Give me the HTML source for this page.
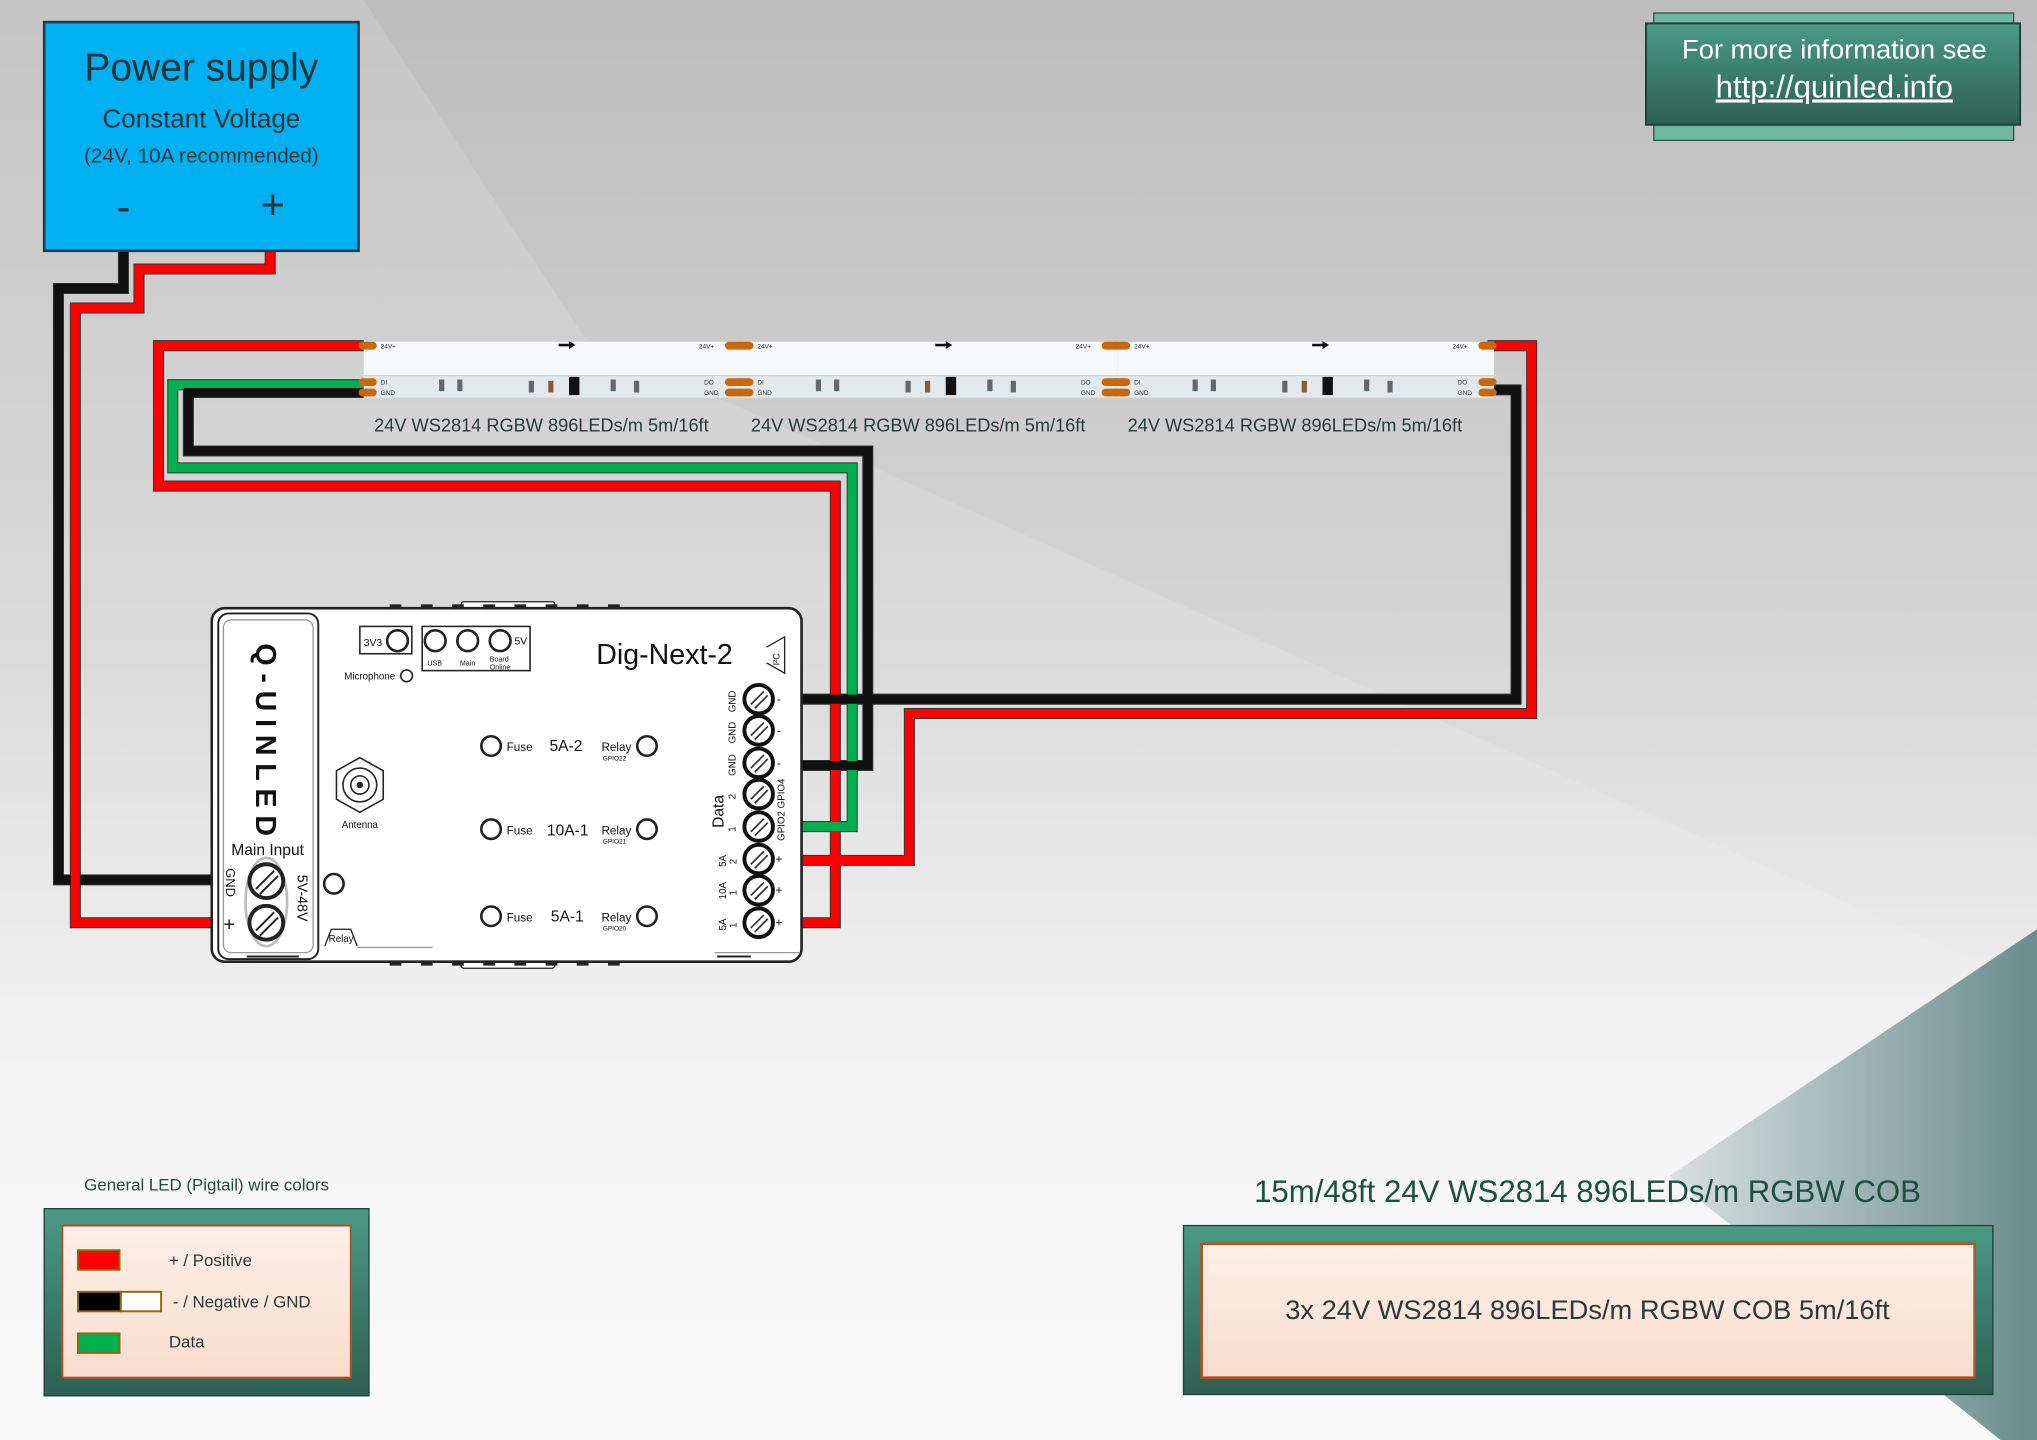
<!DOCTYPE html>
<html><head><meta charset="utf-8"><style>html,body{margin:0;padding:0;background:#eee}svg{display:block}text{font-family:"Liberation Sans","DejaVu Sans",sans-serif}</style></head><body>
<svg width="2037" height="1440" viewBox="0 0 1568 1108" preserveAspectRatio="none" xmlns="http://www.w3.org/2000/svg">
<defs>
<linearGradient id="bg" x1="0" y1="0" x2="0" y2="1"><stop offset="0" stop-color="#bdbdbd"/><stop offset="0.45" stop-color="#d6d6d6"/><stop offset="0.75" stop-color="#f3f3f3"/><stop offset="1" stop-color="#f8f8f8"/></linearGradient>
<linearGradient id="tri" x1="0" y1="0" x2="1" y2="0"><stop offset="0" stop-color="#d8e0e0"/><stop offset="1" stop-color="#6a8c8c"/></linearGradient>
<linearGradient id="gb" x1="0" y1="0" x2="0" y2="1"><stop offset="0" stop-color="#4a9a85"/><stop offset="1" stop-color="#2d5f52"/></linearGradient>
<linearGradient id="pk" x1="0" y1="0" x2="0" y2="1"><stop offset="0" stop-color="#fdf0e8"/><stop offset="1" stop-color="#f8dccc"/></linearGradient>
<g id="strip">
<rect x="0" y="263" width="290" height="27" fill="#f6f9fa"/>
<rect x="0" y="289" width="290" height="17" fill="#e2e9ed"/>
<line x1="0" y1="289" x2="290" y2="289" stroke="#c8d2d8" stroke-width="1"/>
<rect x="-4" y="263" width="14" height="6" rx="3" fill="#c8670e"/>
<rect x="-4" y="291" width="14" height="6" rx="3" fill="#c8670e"/>
<rect x="-4" y="299" width="14" height="6" rx="3" fill="#c8670e"/>
<rect x="278" y="263" width="14" height="6" rx="3" fill="#c8670e"/>
<rect x="278" y="291" width="14" height="6" rx="3" fill="#c8670e"/>
<rect x="278" y="299" width="14" height="6" rx="3" fill="#c8670e"/>
<text x="13" y="268" font-size="5" fill="#333">24V+</text>
<text x="258" y="268" font-size="5" fill="#333">24V+</text>
<text x="13" y="296" font-size="5" fill="#333">DI</text>
<text x="13" y="304" font-size="5" fill="#333">GND</text>
<text x="262" y="296" font-size="5" fill="#333">DO</text>
<text x="262" y="304" font-size="5" fill="#333">GND</text>
<path d="M150 265.5 h10" stroke="#111" stroke-width="2"/><path d="M158 262.5 l5 3 l-5 3z" fill="#111"/>
<rect x="58" y="292" width="4" height="9" fill="#666"/><rect x="72" y="292" width="4" height="9" fill="#666"/>
<rect x="127" y="293" width="4" height="9" fill="#666"/><rect x="142" y="293" width="4" height="9" fill="#8a5a30"/>
<rect x="158" y="290" width="8" height="14" fill="#111"/>
<rect x="190" y="292" width="4" height="9" fill="#666"/><rect x="208" y="293" width="4" height="9" fill="#666"/>
</g>
</defs>
<rect width="1568" height="1108" fill="url(#bg)"/>
<polygon points="0,190 0,1108 1568,1108 1568,760 450,260 280,0 0,0" fill="#ffffff" opacity="0.12"/>
<polygon points="1285,905 1568,715 1568,1108 1540,1108" fill="url(#tri)"/>

<g fill="none" stroke-linejoin="miter">
<g stroke="#333" stroke-width="8.5">
<path d="M95 193 V222 H45 V677 H166"/>
<path d="M208 193 V207 H107 V237 H58 V710 H166"/>
<path d="M280 266 H122 V374 H643 V710 H616"/>
<path d="M280 296 H133 V360 H656 V636 H616"/>
<path d="M280 302 H145 V347 H668 V589 H616"/>
<path d="M1145 300 H1167 V538 H616"/>
<path d="M1145 266 H1179 V549 H700 V662 H616"/>
</g>
<path d="M95 193 V222 H45 V677 H166" stroke="#111" stroke-width="7"/>
<path d="M208 193 V207 H107 V237 H58 V710 H166" stroke="#f00" stroke-width="7"/>
<path d="M280 266 H122 V374 H643 V710 H616" stroke="#f00" stroke-width="7"/>
<path d="M280 296 H133 V360 H656 V636 H616" stroke="#00b050" stroke-width="7"/>
<path d="M280 302 H145 V347 H668 V589 H616" stroke="#111" stroke-width="7"/>
<path d="M1145 300 H1167 V538 H616" stroke="#111" stroke-width="7"/>
<path d="M1145 266 H1179 V549 H700 V662 H616" stroke="#f00" stroke-width="7"/>
</g>

<use href="#strip" transform="translate(280,0)"/>
<use href="#strip" transform="translate(570,0)"/>
<use href="#strip" transform="translate(860,0)"/>
<g font-size="14" fill="#2a3a3a">
<text x="288" y="332">24V WS2814 RGBW 896LEDs/m 5m/16ft</text>
<text x="578" y="332">24V WS2814 RGBW 896LEDs/m 5m/16ft</text>
<text x="868" y="332">24V WS2814 RGBW 896LEDs/m 5m/16ft</text>
</g>

<rect x="34" y="17" width="242" height="176" fill="#00b0f0" stroke="#1f3c4c" stroke-width="2"/>
<g fill="#1d3438" text-anchor="middle">
<text x="155" y="62" font-size="30">Power supply</text>
<text x="155" y="98" font-size="20">Constant Voltage</text>
<text x="155" y="125" font-size="16">(24V, 10A recommended)</text>
<text x="95" y="170" font-size="32">-</text>
<text x="210" y="168" font-size="32">+</text>
</g>

<rect x="1273" y="10" width="277" height="98" fill="#6fb8a0" stroke="#2c5548"/>
<rect x="1267" y="18" width="288" height="78" fill="url(#gb)" stroke="#1f4038" stroke-width="1.5"/>
<text x="1412" y="45" font-size="21" fill="#fff" text-anchor="middle">For more information see</text>
<text x="1412" y="75" font-size="24" fill="#fff" text-anchor="middle" text-decoration="underline">http://quinled.info</text>

<g stroke="#222" fill="none">
<rect x="355" y="463" width="72" height="6" rx="2" fill="#fff"/>
<rect x="355" y="739" width="72" height="6" rx="2" fill="#fff"/>
<rect x="163" y="468" width="454" height="272" rx="10" fill="#fff" stroke-width="2"/>
<rect x="168" y="472" width="77" height="266" rx="8" stroke-width="1.5"/>
<rect x="172" y="477" width="69" height="256" rx="6" stroke="#999"/>
<rect x="277" y="482" width="40" height="21" stroke-width="1.2"/>
<rect x="325" y="482" width="83" height="34" stroke-width="1.2"/>
<circle cx="306" cy="493" r="8" stroke-width="2"/>
<circle cx="335" cy="493" r="8" stroke-width="2"/>
<circle cx="360" cy="493" r="8" stroke-width="2"/>
<circle cx="385" cy="493" r="8" stroke-width="2"/>
<circle cx="313" cy="520" r="4.5" stroke-width="1.2"/>
<path d="M590 498 L604 490 V518 L590 510" stroke-width="1"/>
<polygon points="277,583 295,593 295,615 277,625 259,615 259,593" stroke-width="1.2"/>
<circle cx="277" cy="604" r="13" stroke-width="1.2"/>
<circle cx="277" cy="604" r="7" stroke-width="1.2"/>
<circle cx="277" cy="604" r="2" fill="#222"/>
<circle cx="257" cy="680" r="7.5" stroke-width="2"/>
<path d="M250 728 L255 715 H270 L275 728" stroke-width="1"/>
<line x1="275" y1="729" x2="333" y2="729" stroke="#999"/>
<line x1="550" y1="733" x2="615" y2="733" stroke="#999"/>
<line x1="552" y1="736" x2="578" y2="736" stroke-width="1.5"/>
<line x1="190" y1="736" x2="230" y2="736" stroke-width="1.5"/>
<circle cx="378" cy="574" r="7.5" stroke-width="2"/><circle cx="498" cy="574" r="7.5" stroke-width="2"/>
<circle cx="378" cy="638" r="7.5" stroke-width="2"/><circle cx="498" cy="638" r="7.5" stroke-width="2"/>
<circle cx="378" cy="705" r="7.5" stroke-width="2"/><circle cx="498" cy="705" r="7.5" stroke-width="2"/>
<ellipse cx="205" cy="694" rx="16" ry="34" stroke="#bbb" stroke-width="2"/>
<circle cx="205" cy="678" r="13" stroke-width="3" fill="#fff"/>
<circle cx="205" cy="710" r="13" stroke-width="3" fill="#fff"/>
<path d="M197 684 L211 670 M200 688 L214 674 M197 716 L211 702 M200 720 L214 706" stroke-width="1.5"/>
</g>
<g fill="#222" stroke="none">
<rect x="300" y="465" width="9" height="4"/><rect x="324" y="465" width="9" height="4"/><rect x="348" y="465" width="9" height="4"/><rect x="372" y="465" width="9" height="4"/><rect x="396" y="465" width="9" height="4"/><rect x="420" y="465" width="9" height="4"/><rect x="444" y="465" width="9" height="4"/><rect x="468" y="465" width="9" height="4"/>
<rect x="300" y="739" width="9" height="4"/><rect x="324" y="739" width="9" height="4"/><rect x="348" y="739" width="9" height="4"/><rect x="372" y="739" width="9" height="4"/><rect x="396" y="739" width="9" height="4"/><rect x="420" y="739" width="9" height="4"/><rect x="444" y="739" width="9" height="4"/><rect x="468" y="739" width="9" height="4"/>
</g>
<g stroke="#111" fill="#fff">
<circle cx="584" cy="538" r="11" stroke-width="3"/><circle cx="584" cy="562" r="11" stroke-width="3"/><circle cx="584" cy="587" r="11" stroke-width="3"/><circle cx="584" cy="611" r="11" stroke-width="3"/><circle cx="584" cy="636" r="11" stroke-width="3"/><circle cx="584" cy="661" r="11" stroke-width="3"/><circle cx="584" cy="685" r="11" stroke-width="3"/><circle cx="584" cy="710" r="11" stroke-width="3"/>
</g>
<g stroke="#333" stroke-width="1.3">
<path d="M578 542 l10-10 M581 545 l10-10 M578 566 l10-10 M581 569 l10-10 M578 591 l10-10 M581 594 l10-10 M578 615 l10-10 M581 618 l10-10 M578 640 l10-10 M581 643 l10-10 M578 665 l10-10 M581 668 l10-10 M578 689 l10-10 M581 692 l10-10 M578 714 l10-10 M581 717 l10-10"/>
</g>
<g fill="#111">
<text font-size="22" font-weight="bold" letter-spacing="6" transform="translate(197,495) rotate(90)">Q-UINLED</text>
<text x="206" y="658" font-size="12" text-anchor="middle">Main Input</text>
<text font-size="10" transform="translate(174,668) rotate(90)">GND</text>
<text x="172" y="716" font-size="15">+</text>
<text font-size="11" transform="translate(229,673) rotate(90)">5V-48V</text>
<text x="280" y="497" font-size="8">3V3</text>
<text x="396" y="496" font-size="8">5V</text>
<text x="329" y="512" font-size="5.5">USB</text>
<text x="354" y="512" font-size="5.5">Main</text>
<text x="377" y="509" font-size="5.5">Board</text>
<text x="377" y="515" font-size="5.5">Online</text>
<text x="265" y="523" font-size="7.5">Microphone</text>
<text x="459" y="511" font-size="22">Dig-Next-2</text>
<text font-size="7" transform="translate(600,512) rotate(-90)">I²C</text>
<text x="277" y="637" font-size="7.5" text-anchor="middle">Antenna</text>
<text x="253" y="725" font-size="7.5">Relay</text>
<g font-size="9"><text x="390" y="578">Fuse</text><text x="390" y="642">Fuse</text><text x="390" y="709">Fuse</text>
<text x="463" y="578">Relay</text><text x="463" y="642">Relay</text><text x="463" y="709">Relay</text></g>
<g font-size="5"><text x="464" y="585">GPIO22</text><text x="464" y="649">GPIO21</text><text x="464" y="716">GPIO20</text></g>
<g font-size="12"><text x="423" y="578">5A-2</text><text x="421" y="643">10A-1</text><text x="424" y="709">5A-1</text></g>
<g font-size="7.5">
<text transform="translate(566,548) rotate(-90)">GND</text>
<text transform="translate(566,572) rotate(-90)">GND</text>
<text transform="translate(566,597) rotate(-90)">GND</text>
<text transform="translate(566,615) rotate(-90)">2</text>
<text transform="translate(566,640) rotate(-90)">1</text>
<text transform="translate(559,667) rotate(-90)">5A</text><text transform="translate(567,665) rotate(-90)">2</text>
<text transform="translate(559,692) rotate(-90)">10A</text><text transform="translate(567,689) rotate(-90)">1</text>
<text transform="translate(559,716) rotate(-90)">5A</text><text transform="translate(567,714) rotate(-90)">1</text>
<text transform="translate(604,622) rotate(-90)">GPIO4</text>
<text transform="translate(604,647) rotate(-90)">GPIO2</text>
</g>
<text font-size="12" transform="translate(557,637) rotate(-90)">Data</text>
<g font-size="9"><text x="598" y="541">-</text><text x="598" y="565">-</text><text x="598" y="590">-</text><text x="597" y="664">+</text><text x="597" y="688">+</text><text x="597" y="713">+</text></g>
</g>

<text x="159" y="916" font-size="13" fill="#254a40" text-anchor="middle">General LED (Pigtail) wire colors</text>
<rect x="34" y="930" width="250" height="144" fill="url(#gb)" stroke="#1f4038"/>
<rect x="48" y="943" width="222" height="117" fill="url(#pk)" stroke="#b85020" stroke-width="1.5"/>
<rect x="60" y="962" width="32" height="15" fill="#f00" stroke="#8a6a10" stroke-width="1.5"/>
<rect x="60" y="994" width="33" height="15" fill="#000" stroke="#8a6a10" stroke-width="1.5"/>
<rect x="93" y="994" width="31" height="15" fill="#fff" stroke="#8a6a10" stroke-width="1.5"/>
<rect x="60" y="1026" width="32" height="15" fill="#00b050" stroke="#8a6a10" stroke-width="1.5"/>
<g font-size="13" fill="#2a3a3a"><text x="130" y="974">+ / Positive</text><text x="133" y="1006">- / Negative / GND</text><text x="130" y="1037">Data</text></g>

<text x="1222" y="925" font-size="24" fill="#1e5040" text-anchor="middle">15m/48ft 24V WS2814 896LEDs/m RGBW COB</text>
<rect x="911" y="943" width="623" height="130" fill="url(#gb)" stroke="#1f4038"/>
<rect x="925" y="957" width="595" height="103" fill="url(#pk)" stroke="#b85020" stroke-width="2"/>
<text x="1222" y="1015" font-size="21" fill="#2a3a3a" text-anchor="middle">3x 24V WS2814 896LEDs/m RGBW COB 5m/16ft</text>
</svg>
</body></html>
